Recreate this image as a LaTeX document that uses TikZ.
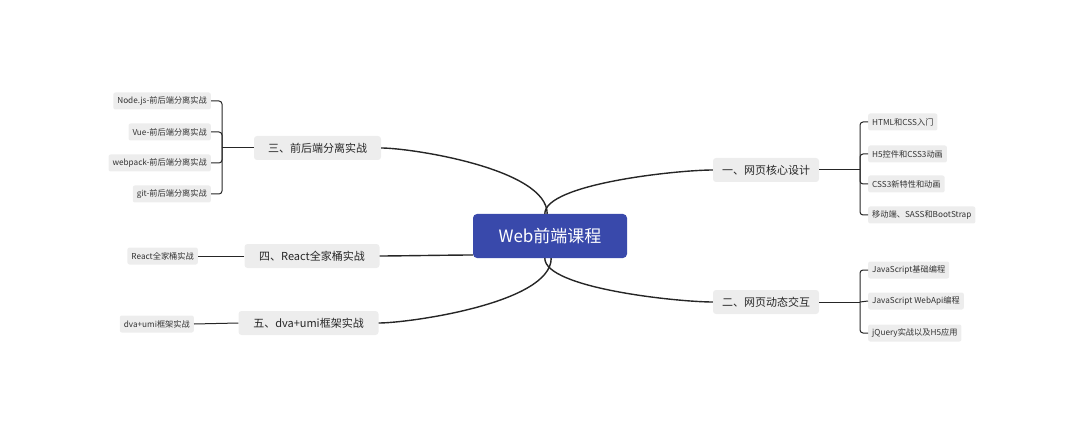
\documentclass[tikz,border=0pt]{standalone}
\usepackage{fontspec}
\setmainfont{Noto Sans CJK SC}
\begin{document}
\begin{tikzpicture}[x=1pt,y=-1pt,
 leaf/.style={fill=black!7,rounded corners=2pt,font=\fontsize{8.2}{9}\selectfont,text=black!80,inner xsep=4pt,minimum height=17pt},
 branch/.style={fill=black!7,rounded corners=3pt,font=\fontsize{11}{12}\selectfont,text=black!85,minimum height=24pt,inner xsep=9pt},
 con/.style={line width=1.4pt,black!85},
 br/.style={line width=1pt,black!85,rounded corners=3pt}]
\useasboundingbox (0,0) rectangle (1080,433);
\node[fill={rgb,255:red,57;green,73;blue,171},rounded corners=4pt,text=white,font=\fontsize{17}{19}\selectfont,minimum width=154pt,minimum height=44pt] (c) at (550,236) {Web前端课程};
\node[branch,minimum width=104pt] (b1) at (766,170) {一、网页核心设计};
\node[branch,minimum width=104pt] (b2) at (766,302) {二、网页动态交互};
\node[branch,minimum width=127pt] (b3) at (317.5,148) {三、前后端分离实战};
\node[branch,minimum width=135pt] (b4) at (312,256) {四、React全家桶实战};
\node[branch,minimum width=140pt] (b5) at (308.5,323) {五、dva+umi框架实战};
% right leaves
\node[leaf,anchor=west] (r1) at (868,122) {HTML和CSS入门};
\node[leaf,anchor=west] (r2) at (868,154) {H5控件和CSS3动画};
\node[leaf,anchor=west] (r3) at (868,184) {CSS3新特性和动画};
\node[leaf,anchor=west] (r4) at (868,215) {移动端、SASS和BootStrap};
\node[leaf,anchor=west] (r5) at (868,270) {JavaScript基础编程};
\node[leaf,anchor=west] (r6) at (868,301) {JavaScript WebApi编程};
\node[leaf,anchor=west] (r7) at (868,333) {jQuery实战以及H5应用};
% left leaves
\node[leaf,anchor=east] (l1) at (211,101) {Node.js-前后端分离实战};
\node[leaf,anchor=east] (l2) at (211,132) {Vue-前后端分离实战};
\node[leaf,anchor=east] (l3) at (211,163) {webpack-前后端分离实战};
\node[leaf,anchor=east] (l4) at (211,194) {git-前后端分离实战};
\node[leaf,anchor=east] (l5) at (198,256) {React全家桶实战};
\node[leaf,anchor=east] (l6) at (194,324) {dva+umi框架实战};
% main connectors
\draw[con] ([xshift=72pt]c.north west) .. controls +(0,-30) and +(-35,0) .. (b1.west);
\draw[con] ([xshift=72pt]c.south west) .. controls +(0,30) and +(-35,0) .. (b2.west);
\draw[con] ([xshift=-80pt]c.north east) .. controls +(0,-45) and +(30,0) .. (b3.east);
\draw[con] (c.west) ++(0,19) coordinate (c4) .. controls +(-20,0) and +(15,0) .. (b4.east);
\draw[con] ([xshift=-76pt]c.south east) .. controls +(0,45) and +(30,0) .. (b5.east);
% brackets right
\coordinate (jr1) at (860,170);
\draw[br] (b1.east) -- (jr1);
\draw[br] (r1.west) -| (jr1) |- (r4.west);
\draw[br] (jr1) |- (r2.west);
\draw[br] (jr1) |- (r3.west);
\coordinate (jr2) at (860,302);
\draw[br] (b2.east) -- (jr2);
\draw[br] (r5.west) -| (jr2) |- (r7.west);
\draw[br] (jr2) -- (r6.west);
% brackets left
\coordinate (jl) at (222,148);
\draw[br] (b3.west) -- (jl);
\draw[br] (l1.east) -| (jl) |- (l4.east);
\draw[br] (jl) |- (l2.east);
\draw[br] (jl) |- (l3.east);
\draw[br] (b4.west) -- (l5.east);
\draw[br] (b5.west) -- (l6.east);
\end{tikzpicture}
\end{document}
